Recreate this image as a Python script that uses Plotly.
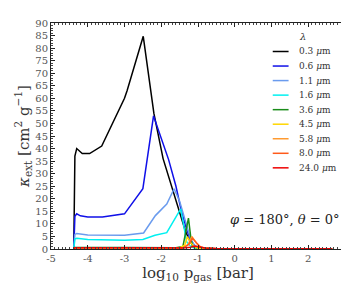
import plotly.graph_objects as go

# ---- data ----
labels = ["0.3 <i>μ</i>m", "0.6 <i>μ</i>m", "1.1 <i>μ</i>m", "1.6 <i>μ</i>m", "3.6 <i>μ</i>m",
          "4.5 <i>μ</i>m", "5.8 <i>μ</i>m", "8.0 <i>μ</i>m", "24.0 <i>μ</i>m"]
colors = ["#000000", "#1010e8", "#6a9bee", "#00f0f0", "#1a8c1a",
          "#ffd700", "#ff9a30", "#ff5a1a", "#ee0000"]

x_03 = [-4.38, -4.35, -4.3, -4.15, -3.95, -3.62, -3.0, -2.93, -2.49, -2.2, -1.95, -1.7, -1.5, -1.35, -1.25, -1.15, -1.0, -0.8, -0.5, 2.65]
y_03 = [0, 37, 40, 38, 38, 41, 60, 63, 84.7, 54, 36, 24, 15, 7.5, 4, 1.5, 0.3, 0.15, 0.05, 0.05]

x_06 = [-4.38, -4.35, -4.3, -4.2, -4.0, -3.6, -3.0, -2.5, -2.21, -1.8, -1.6, -1.45, -1.3, -1.2, -1.1, -1.0, -0.8, -0.5, 2.65]
y_06 = [0, 13, 14, 13.2, 12.7, 12.7, 14, 24, 53, 35.6, 25, 15, 7.5, 3.5, 1.5, 0.5, 0.2, 0.1, 0.05]

x_11 = [-4.38, -4.35, -4.3, -4.0, -3.0, -2.48, -2.16, -1.85, -1.65, -1.5, -1.33, -1.2, -1.1, -1.0, -0.8, -0.5, 2.65]
y_11 = [0, 5.8, 6.2, 5.6, 5.5, 6.4, 13.3, 17.9, 24, 19, 10.5, 4, 1.5, 0.5, 0.2, 0.1, 0.05]

x_16 = [-4.38, -4.35, -4.3, -4.0, -3.0, -2.5, -2.17, -1.85, -1.47, -1.31, -1.2, -1.1, -1.0, -0.8, -0.5, 2.65]
y_16 = [0, 4.0, 4.3, 3.8, 3.5, 3.8, 5.5, 6.5, 16, 2.9, 1.0, 0.4, 0.2, 0.1, 0.05, 0.05]

x_36 = [-4.38, -4.35, -3.0, -2.0, -1.6, -1.41, -1.26, -1.2, -1.15, -1.0, -0.5, 2.65]
y_36 = [0, 0.6, 0.6, 0.5, 0.5, 1.0, 12.3, 5, 1.0, 0.3, 0.1, 0.05]

x_45 = [-4.38, -4.35, -2.0, -1.5, -1.36, -1.29, -1.2, -1.1, -1.0, -0.5, 2.65]
y_45 = [0, 0.4, 0.4, 0.5, 1.5, 4.9, 2.5, 1.0, 0.3, 0.1, 0.05]

x_58 = [-4.38, -4.35, -2.0, -1.4, -1.26, -1.17, -1.05, -0.95, -0.8, -0.5, 2.65]
y_58 = [0, 0.4, 0.4, 0.4, 2.0, 5.0, 2.5, 0.8, 0.3, 0.1, 0.05]

x_80 = [-4.38, -4.35, -2.0, -1.4, -1.25, -1.15, -1.03, -0.93, -0.8, -0.5, 2.65]
y_80 = [0, 0.45, 0.45, 0.45, 1.8, 4.3, 2.3, 0.8, 0.3, 0.1, 0.05]

x_240 = [-4.38, -4.35, -2.0, -1.4, -1.2, -1.1, -1.0, -0.8, -0.5, 2.65]
y_240 = [0, 0.5, 0.5, 0.4, 0.7, 1.2, 0.9, 0.4, 0.15, 0.1]

xs = [x_03, x_06, x_11, x_16, x_36, x_45, x_58, x_80, x_240]
ys = [y_03, y_06, y_11, y_16, y_36, y_45, y_58, y_80, y_240]

x_ticks = [-5, -4, -3, -2, -1, 0, 1, 2, 3]
y_ticks = list(range(0, 95, 5))

# ---- figure ----
W, H = 349, 284
L, R, T, B = 43, 9, 11, 43
pw, ph = W - L - R, H - T - B

fig = go.Figure()
for xv, yv, c, lab in zip(xs, ys, colors, labels):
    fig.add_trace(go.Scatter(x=xv, y=yv, mode="lines", name=lab,
                             line=dict(color=c, width=1.5), showlegend=False))

def px2paper(px, py):
    return (px - L) / pw, (H - B - py) / ph

# manual legend (matplotlib-like compact spacing)
lx0, lx1, tx = 267, 283, 292
ly0, dy = 40, 14.8
for i, (c, lab) in enumerate(zip(colors, labels)):
    py = ly0 + i * dy
    a, yy = px2paper(lx0, py)
    b, _ = px2paper(lx1, py)
    fig.add_shape(type="line", xref="paper", yref="paper", x0=a, x1=b, y0=yy, y1=yy,
                  line=dict(color=c, width=1.5))
    t, _ = px2paper(tx, py)
    fig.add_annotation(xref="paper", yref="paper", x=t, y=yy, text=lab, showarrow=False,
                       xanchor="left", yanchor="middle",
                       font=dict(family="DejaVu Serif", size=9, color="#333"))
lt, lty = px2paper(297, 25)
fig.add_annotation(xref="paper", yref="paper", x=lt, y=lty, text="<i>λ</i>", showarrow=False,
                   xanchor="center", yanchor="middle",
                   font=dict(family="DejaVu Serif", size=10, color="#333"))

ax, ay = px2paper(337, 211)
fig.add_annotation(xref="paper", yref="paper", x=ax, y=ay,
                   text="<i>φ</i> = 180°, <i>θ</i> = 0°", showarrow=False,
                   xanchor="right", yanchor="middle",
                   font=dict(family="DejaVu Serif", size=13, color="#222"))

tickfont = dict(family="DejaVu Serif", size=10, color="#555")
fig.update_xaxes(range=[-5, 3], tickvals=x_ticks, ticktext=[str(v) for v in x_ticks],
                 ticks="inside", ticklen=4, tickcolor="#222", mirror="ticks",
                 showline=True, linecolor="#222", linewidth=1, showgrid=False, zeroline=False,
                 tickfont=tickfont,
                 minor=dict(ticks="inside", ticklen=2, dtick=0.1, tickcolor="#444"),
                 title=dict(text="log<sub>10</sub> p<sub>gas</sub> [bar]", standoff=4,
                            font=dict(family="DejaVu Serif", size=15, color="#333")))
fig.update_yaxes(range=[0, 90], tickvals=y_ticks, ticktext=[str(v) for v in y_ticks],
                 ticks="inside", ticklen=4, tickcolor="#222", mirror="ticks",
                 showline=True, linecolor="#222", linewidth=1, showgrid=False, zeroline=False,
                 tickfont=tickfont,
                 minor=dict(ticks="inside", ticklen=2, dtick=1, tickcolor="#444"),
                 title=dict(text="<i>κ</i><sub>ext</sub> [cm<sup>2</sup> g<sup>−1</sup>]", standoff=2,
                            font=dict(family="DejaVu Serif", size=15, color="#333")))
fig.update_layout(width=W, height=H, margin=dict(l=L, r=R, t=T, b=B),
                  paper_bgcolor="white", plot_bgcolor="white")
fig.write_html("out.html")
